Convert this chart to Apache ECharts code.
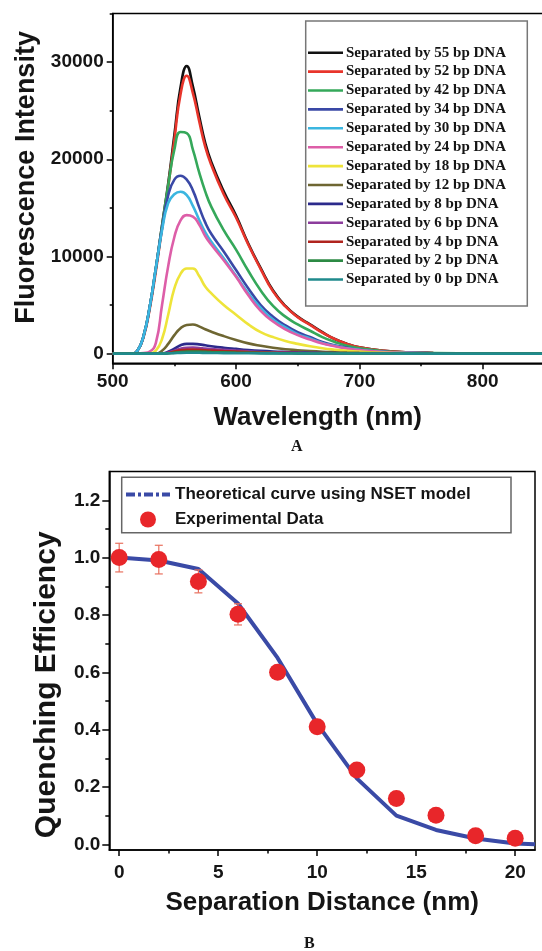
<!DOCTYPE html>
<html><head><meta charset="utf-8">
<script src="https://cdn.jsdelivr.net/npm/echarts@6/dist/echarts.min.js"></script>
<style>html,body{margin:0;padding:0;background:#fff;} #c{width:542px;height:951px;}</style>
</head><body><div id="c"></div>
<script>
// ---- Panel A data ----
const wavelengths = [500,515,520,525,530,535,540,545,550,555,560,565,570,575,580,590,600,610,620,630,640,650,660,670,680,690,700,720,740,760,800,850];
const seriesNamesA = ['Separated by 55 bp DNA','Separated by 52 bp DNA','Separated by 42 bp DNA','Separated by 34 bp DNA','Separated by 30 bp DNA','Separated by 24 bp DNA','Separated by 18 bp DNA','Separated by 12 bp DNA','Separated by 8 bp DNA','Separated by 6 bp DNA','Separated by 4 bp DNA','Separated by 2 bp DNA','Separated by 0 bp DNA'];
const colorsA = ['#111111','#e8352b','#35a85a','#3a48a6','#3bb6e0','#dd5ea8','#eee43a','#6e6632','#2c2a8c','#8c3c9c','#b0241e','#2c8a44','#1f8a8c'];
const s55 = [0,0,300,1800,4800,8800,13200,17500,22500,27400,29600,27500,24500,21700,19700,16700,14200,11300,8800,6500,4900,3800,3000,2200,1500,1000,650,280,120,60,20,0];
const s52 = [0,0,300,1700,4600,8500,12900,17200,22000,26700,28600,26800,24000,21300,19400,16400,14000,11200,8700,6400,4850,3750,2950,2150,1500,1000,650,280,120,60,20,0];
const s42 = [0,0,300,1800,4800,8800,13100,17300,21000,22800,22700,21000,18700,16700,15100,12700,10700,8500,6500,4900,3800,3000,2350,1700,1200,800,550,240,100,50,15,0];
const s34 = [0,0,300,1800,4800,8800,12900,16300,17900,18300,17900,16800,15100,13500,12300,10500,8600,6700,5000,3800,2900,2200,1700,1200,850,600,400,180,80,40,10,0];
const s30 = [0,0,300,1800,4800,8800,12700,15500,16400,16650,16300,15200,13800,12500,11500,9800,8000,6200,4700,3500,2700,2000,1550,1100,800,550,380,170,75,35,10,0];
const s24 = [0,0,0,50,200,1100,5000,9000,12000,13700,14250,14100,13300,12100,11200,9600,7900,6000,4400,3300,2500,1900,1450,1050,750,520,360,160,70,30,10,0];
const s18 = [0,0,0,0,0,300,1500,4000,6700,8200,8750,8750,8000,6900,6200,5000,4000,3000,2200,1700,1300,1000,750,550,400,280,200,90,40,20,5,0];
const s12 = [0,0,0,0,0,0,300,1000,1900,2600,2950,3000,2800,2500,2250,1800,1400,1050,800,600,450,350,260,190,140,100,70,30,10,5,0,0];
const s8 = [0,0,0,0,0,0,0,200,500,850,1000,1000,950,850,750,600,480,370,280,210,160,120,90,65,45,30,20,10,0,0,0,0];
const s6 = [0,0,0,0,0,0,0,100,300,500,600,620,580,520,470,380,300,230,170,130,100,75,55,40,30,20,15,5,0,0,0,0];
const s4 = [0,0,0,0,0,0,0,60,200,330,400,410,380,340,310,250,200,150,110,85,65,50,35,25,20,15,10,3,0,0,0,0];
const s2 = [0,0,0,0,0,0,0,30,100,170,200,210,200,180,160,130,100,80,60,45,35,25,18,14,10,7,5,2,0,0,0,0];
const s0 = [0,0,0,0,0,0,0,20,40,70,80,80,80,70,60,50,40,32,25,20,15,12,9,7,5,4,3,1,0,0,0,0];
const valuesA = [s55,s52,s42,s34,s30,s24,s18,s12,s8,s6,s4,s2,s0];
const xTicksA = [500,600,700,800];
const xMinorA = [550,650,750,850];
const yTicksA = [0,10000,20000,30000];
const yMinorA = [5000,15000,25000,35000];

// ---- Panel B data ----
const distanceTheory = [0,2,4,6,8,10,12,14,16,18,20,21];
const theoryQE = [1.0,0.99,0.96,0.84,0.65,0.42,0.23,0.10,0.05,0.02,0.003,0.0];
const distanceExp = [0,2,4,6,8,10,12,14,16,18,20];
const expQE = [1.0,0.993,0.917,0.802,0.600,0.410,0.259,0.160,0.101,0.030,0.021];
const expErr = [0.05,0.05,0.04,0.037,0.02,0.02,0.02,0.02,0.02,0.02,0.02];
const xTicksB = [0,5,10,15,20];
const xMinorB = [2.5,7.5,12.5,17.5];
const yTicksB = [0,0.2,0.4,0.6,0.8,1.0,1.2];
const yMinorB = [0.1,0.3,0.5,0.7,0.9,1.1];

const SANS = "'Liberation Sans', Arial, sans-serif";
const SERIF = "'Liberation Serif', 'Times New Roman', serif";
const axisLineStyle = {color:'#000', width:1.5};

function mainAxis(gridIndex, min, max, ticks, fmt, labelSize, labelMargin, tickLen, name, nameSize, nameGap, namePadding, position) {
  return {
    type:'value', gridIndex, min, max, position,
    axisLine:{show:true, onZero:false, lineStyle:axisLineStyle},
    axisTick:{show:true, inside:false, length:tickLen, customValues:ticks, lineStyle:{color:'#000', width:1.5}},
    axisLabel:{show:true, customValues:ticks, formatter:fmt, fontFamily:SANS, fontWeight:'bold', fontSize:labelSize, color:'#151515', margin:labelMargin},
    splitLine:{show:false},
    name, nameLocation:'middle', nameGap,
    nameTextStyle:{fontFamily:SANS, fontWeight:'bold', fontSize:nameSize, color:'#151515', padding:namePadding}
  };
}
function minorAxis(gridIndex, min, max, ticks, tickLen, position) {
  return {
    type:'value', gridIndex, min, max, position,
    axisLine:{show:false, onZero:false},
    axisTick:{show:true, inside:false, length:tickLen, customValues:ticks, lineStyle:{color:'#000', width:1.5}},
    axisLabel:{show:false},
    splitLine:{show:false}
  };
}

const seriesA = seriesNamesA.map((n,i)=>({
  name:n, type:'line', xAxisIndex:0, yAxisIndex:0,
  data: wavelengths.map((w,j)=>[w, valuesA[i][j]]),
  symbol:'none', showSymbol:false, smooth:0.5,
  lineStyle:{color:colorsA[i], width:2.6}, itemStyle:{color:colorsA[i]},
  silent:true, animation:false
}));

const option = {
  animation:false,
  backgroundColor:'#fff',
  grid:[
    {left:112.7, top:13.5, width:444, height:349.8, show:true, borderColor:'#000', borderWidth:1.5, outerBoundsMode:'none', containLabel:false},
    {left:109.3, top:471.6, width:425.7, height:378.4, show:true, borderColor:'#000', borderWidth:1.5, outerBoundsMode:'none', containLabel:false}
  ],
  xAxis:[
    mainAxis(0,500,860,xTicksA,v=>String(v),19,9,6,'Wavelength (nm)',26,42,[0,34,0,0],'bottom'),
    minorAxis(0,500,860,xMinorA,3,'bottom'),
    mainAxis(1,-0.5,21,xTicksB,v=>String(v),19,13,6,'Separation Distance (nm)',26,40,0,'bottom'),
    minorAxis(1,-0.5,21,xMinorB,3.5,'bottom')
  ],
  yAxis:[
    mainAxis(0,-1000,35000,yTicksA,v=>String(v),19,9,6,'Fluorescence Intensity',27,72,[0,0,0,22],'left'),
    minorAxis(0,-1000,35000,yMinorA,3,'left'),
    mainAxis(1,-0.02,1.3,yTicksB,v=>v.toFixed(1),19,9,7,'Quenching Efficiency',30,48,[0,48,0,0],'left'),
    minorAxis(1,-0.02,1.3,yMinorB,4,'left')
  ],
  legend:[
    {
      data: seriesNamesA, orient:'vertical', left:308, top:45.2, padding:0,
      icon:'rect', itemWidth:35, itemHeight:2.6, itemGap:3.9, selectedMode:false,
      textStyle:{fontFamily:SERIF, fontWeight:'bold', fontSize:15, color:'#151515', padding:[0,0,0,-2]}
    },
    {
      data:[
        {name:'Theoretical curve using NSET model', itemStyle:{opacity:0}, lineStyle:{type:[9,3,3,3], width:4}},
        {name:'Experimental Data', icon:'circle', itemStyle:{opacity:1}}
      ],
      orient:'vertical', left:124, top:486, padding:0,
      itemWidth:44, itemHeight:16, itemGap:8, selectedMode:false,
      textStyle:{fontFamily:SANS, fontWeight:'bold', fontSize:17, color:'#151515'}
    }
  ],
  graphic:[
    {type:'rect', shape:{x:305.7, y:21, width:221.6, height:285}, style:{fill:'none', stroke:'#777', lineWidth:1.5}, silent:true},
    {type:'rect', shape:{x:121.7, y:477.3, width:389.3, height:55.4}, style:{fill:'none', stroke:'#666', lineWidth:1.5}, silent:true},
    {type:'text', left:291, top:439, style:{text:'A', font:"bold 16px 'Liberation Serif'", fill:'#151515'}},
    {type:'text', left:304, top:936, style:{text:'B', font:"bold 16px 'Liberation Serif'", fill:'#151515'}}
  ],
  series: seriesA.concat([
    {
      name:'Theoretical curve using NSET model', type:'line', xAxisIndex:2, yAxisIndex:2,
      data: distanceTheory.map((d,i)=>[d, theoryQE[i]]),
      symbol:'none', showSymbol:false,
      lineStyle:{color:'#3a4aa6', width:4}, itemStyle:{color:'#3a4aa6'}, z:2
    },
    {
      name:'errorbars', type:'custom', xAxisIndex:2, yAxisIndex:2,
      data: distanceExp.map((d,i)=>[d, expQE[i], expErr[i]]),
      renderItem:(params, api)=>{
        const x = api.value(0), y = api.value(1), e = api.value(2);
        const top = api.coord([x, y+e]), bot = api.coord([x, y-e]);
        const hw = 4;
        return {type:'group', children:[
          {type:'line', shape:{x1:top[0], y1:top[1], x2:bot[0], y2:bot[1]}, style:{stroke:'#e8705e', lineWidth:1.2}},
          {type:'line', shape:{x1:top[0]-hw, y1:top[1], x2:top[0]+hw, y2:top[1]}, style:{stroke:'#e8705e', lineWidth:1.2}},
          {type:'line', shape:{x1:bot[0]-hw, y1:bot[1], x2:bot[0]+hw, y2:bot[1]}, style:{stroke:'#e8705e', lineWidth:1.2}}
        ]};
      },
      z:3, silent:true
    },
    {
      name:'Experimental Data', type:'scatter', xAxisIndex:2, yAxisIndex:2,
      data: distanceExp.map((d,i)=>[d, expQE[i]]),
      symbol:'circle', symbolSize:17, itemStyle:{color:'#e8262a', opacity:1}, z:4
    }
  ])
};
const chart = echarts.init(document.getElementById('c'), null, {renderer:'canvas'});
chart.setOption(option);
</script>
</body></html>
